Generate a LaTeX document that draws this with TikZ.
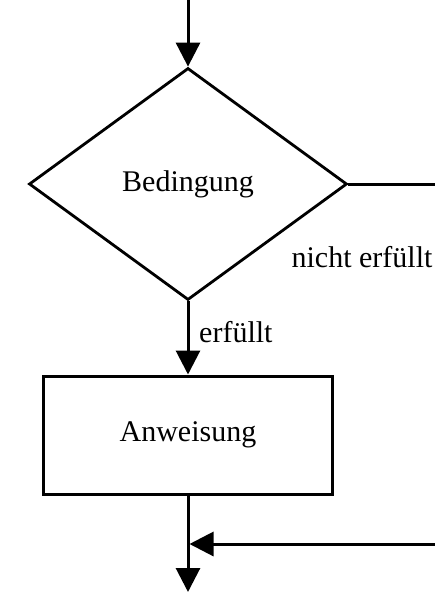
\documentclass[tikz,border=0pt]{standalone}
\usepackage{fontspec}
\setmainfont{Liberation Serif}
\usetikzlibrary{shapes.geometric,arrows.meta}
\begin{document}
\begin{tikzpicture}[x=1pt,y=-1pt,
  every node/.style={font=\fontsize{30}{34}\selectfont},
  flow/.style={line width=3pt, draw=black},
  arr/.style={flow, -{Triangle[length=24pt,width=24pt]}},
  cond/.style={diamond, draw=black, line width=2.8pt, inner sep=0pt, minimum width=318pt, minimum height=232pt},
  stmt/.style={rectangle, draw=black, line width=3pt, inner sep=0pt, minimum width=289pt, minimum height=118pt},
  lbl/.style={inner sep=0pt}]
\useasboundingbox (0,0) rectangle (435,597);
\coordinate (start) at (188,0);
\node[cond] (bed) at (188,184) {Bedingung};
\node[stmt] (anw) at (188,435) {Anweisung};
\coordinate (rtop) at (437,184);
\coordinate (rbot) at (437,544);
\coordinate (join) at (189.5,544);
\coordinate (end) at (188,592);
\draw[arr] (start) -- (bed.north);
\draw[flow] (bed.east) -- (rtop);
\draw[arr] (bed.south) -- (anw.north);
\draw[arr] (anw.south) -- (end);
\draw[arr] (rbot) -- (join);
\node[lbl, anchor=base west] (ja) at (199,342) {erfüllt};
\node[lbl, anchor=base] (nein) at (362,267) {nicht erfüllt};
\end{tikzpicture}
\end{document}
